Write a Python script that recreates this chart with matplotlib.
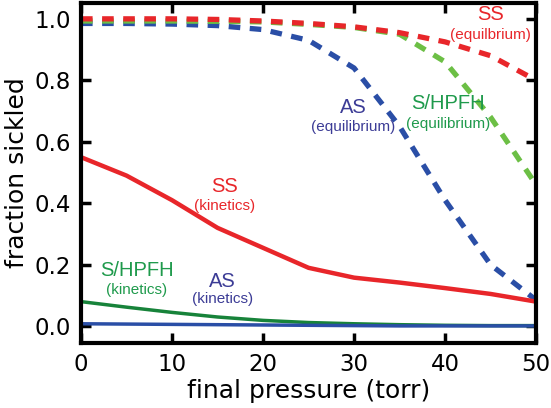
import matplotlib.pyplot as plt

# pressure grid (torr)
p = [0, 5, 10, 15, 20, 25, 30, 35, 40, 45, 50]

# equilibrium curves (dashed)
ss_eq = [1.0, 1.0, 1.0, 0.998, 0.993, 0.985, 0.974, 0.955, 0.925, 0.88, 0.80]
shpfh_eq = [0.993, 0.993, 0.993, 0.992, 0.99, 0.982, 0.972, 0.95, 0.86, 0.68, 0.46]
as_eq = [0.985, 0.985, 0.983, 0.978, 0.965, 0.93, 0.84, 0.65, 0.41, 0.2, 0.085]

# kinetics curves (solid)
ss_kin = [0.55, 0.49, 0.41, 0.32, 0.255, 0.19, 0.158, 0.142, 0.124, 0.105, 0.08]
shpfh_kin = [0.08, 0.062, 0.045, 0.03, 0.019, 0.012, 0.008, 0.005, 0.003, 0.002, 0.002]
as_kin = [0.008, 0.007, 0.006, 0.005, 0.004, 0.003, 0.002, 0.001, 0.001, 0.001, 0.001]

red = '#e8262a'
blue = '#2a4ea6'
lgreen = '#6cbf45'
dgreen = '#17833a'

fig = plt.figure(figsize=(5.51, 4.08), dpi=100)
ax = fig.add_axes([0.147, 0.159, 0.826, 0.834])

dash = (0, (2.2, 1.8))
ax.plot(p, as_eq, color=blue, lw=3.8, ls=dash)
ax.plot(p, shpfh_eq, color=lgreen, lw=3.8, ls=dash)
ax.plot(p, ss_eq, color=red, lw=3.8, ls=dash)
ax.plot(p, shpfh_kin, color=dgreen, lw=2.5)
ax.plot(p, as_kin, color=blue, lw=2.5)
ax.plot(p, ss_kin, color=red, lw=3.2)

ax.set_xlim(0, 50)
ax.set_ylim(-0.055, 1.052)
ax.set_xticks([0, 10, 20, 30, 40, 50])
ax.set_yticks([0.0, 0.2, 0.4, 0.6, 0.8, 1.0])
ax.set_yticklabels(['0.0', '0.2', '0.4', '0.6', '0.8', '1.0'])
ax.tick_params(direction='in', length=7, width=2.5, labelsize=16.5,
               top=True, right=True, pad=7)
for s in ax.spines.values():
    s.set_linewidth(3)
ax.set_xlabel('final pressure (torr)', fontsize=18, labelpad=2)
ax.set_ylabel('fraction sickled', fontsize=18, labelpad=4)

af = 'Liberation Sans'
purple = '#3c3c96'
tgreen = '#1f9a4c'
labels = [
    ('SS', '(equilbrium)', 45.0, 1.013, 0.948, red),
    ('AS', '(equilibrium)', 29.9, 0.713, 0.648, purple),
    ('S/HPFH', '(equilibrium)', 40.3, 0.726, 0.658, tgreen),
    ('SS', '(kinetics)', 15.8, 0.453, 0.391, red),
    ('S/HPFH', '(kinetics)', 6.1, 0.182, 0.117, tgreen),
    ('AS', '(kinetics)', 15.5, 0.147, 0.088, purple),
]
for big, small, x, y1, y2, c in labels:
    ax.text(x, y1, big, color=c, fontsize=14.5, family=af, ha='center', va='center')
    ax.text(x, y2, small, color=c, fontsize=11, family=af, ha='center', va='center')

fig.savefig('out.png', dpi=100)
